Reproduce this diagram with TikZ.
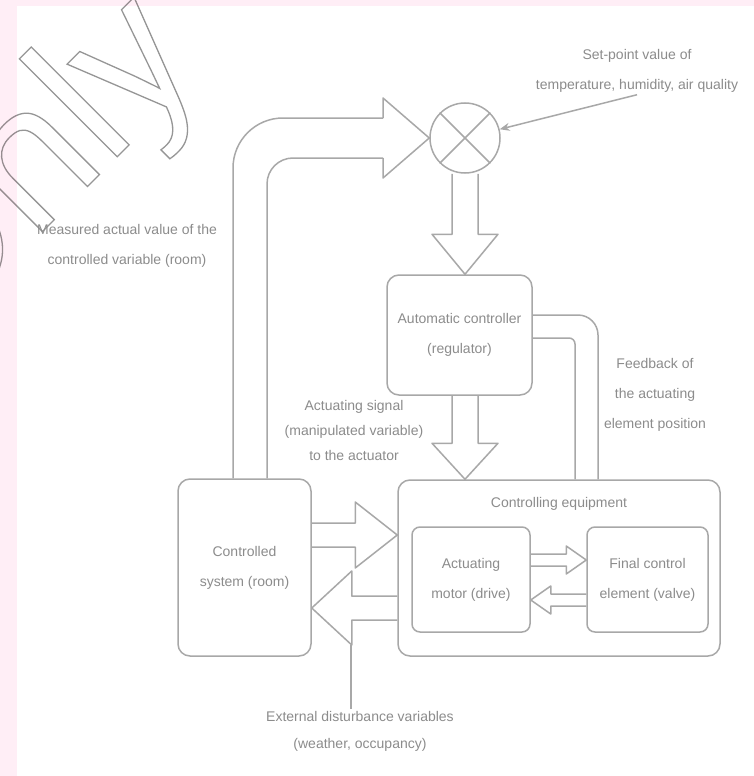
\documentclass[tikz,border=0pt]{standalone}
\usepackage{fontspec}
\setmainfont{Liberation Sans}
\newfontfamily\wmfont{Liberation Sans}
\usetikzlibrary{calc,arrows.meta}
\definecolor{pinkbg}{RGB}{255,238,246}
\definecolor{lin}{RGB}{168,168,168}
\definecolor{txt}{RGB}{140,140,140}
\definecolor{wmgray}{RGB}{150,150,150}
\newcommand{\lbfont}{\fontsize{14}{30}\selectfont}
\newcommand{\hollowarr}[5]{%
  \path let \p1=(#1), \p2=(#2), \n1={atan2(\y2-\y1,\x2-\x1)}, \n2={veclen(\x2-\x1,\y2-\y1)} in
    \pgfextra{\xdef\harrang{\n1}\xdef\harrlen{\n2}};
  \draw[pipe, shift={(#1)}, rotate=\harrang] (0,#3) -- ({\harrlen-#5},#3) -- ({\harrlen-#5},#4)
    -- (\harrlen,0) -- ({\harrlen-#5},-#4) -- ({\harrlen-#5},-#3) -- (0,-#3);
}
\tikzset{
  pipe/.style={draw=lin, line width=1.5pt, line join=round},
  box/.style={draw=lin, line width=1.5pt, rounded corners=12pt, align=center, text=txt, font=\lbfont, inner sep=2pt},
  subbox/.style={box, rounded corners=8pt},
  lbl/.style={align=center, text=txt, font=\lbfont, inner sep=2pt},
}
\begin{document}
\begin{tikzpicture}[x=1pt, y=-1pt]
\useasboundingbox (0,0) rectangle (754,776);
\fill[white] (0,0) rectangle (754,776);
% watermark (outlined text)
\node[anchor=base west, rotate=45, inner sep=0pt, outer sep=0pt] (wm) at (-72,346)
  {\wmfont\fontsize{191}{191}\selectfont{\color{wmgray}\special{pdf:literal direct 1 Tr 1.3 w}Only\special{pdf:literal direct 0 Tr}}};
% page margins
\fill[pinkbg, blend mode=multiply] (0,0) rectangle (17,776);
\fill[pinkbg, blend mode=multiply] (17,0) rectangle (754,6);

% nodes
\node[circle, draw=lin, line width=1.5pt, minimum size=70pt, inner sep=0pt] (circ) at (465,138) {};
\draw[pipe] (circ.north west) -- (circ.south east) (circ.north east) -- (circ.south west);

\node[box, minimum width=145pt, minimum height=120pt] (ctrl) at (459.5,335) {Automatic controller\\(regulator)};
\node[box, minimum width=133pt, minimum height=177pt] (plant) at (244.5,567.5) {Controlled\\system (room)};
\node[box, minimum width=322pt, minimum height=176pt] (equip) at (559,568) {};
\node[lbl] (eqt) at (559,504) {Controlling equipment};
\node[subbox, minimum width=118pt, minimum height=105pt] (act) at (471,579.5) {Actuating\\motor (drive)};
\node[subbox, minimum width=121pt, minimum height=105pt] (fce) at (647.5,579.5) {Final control\\element (valve)};

\node[lbl] (tSet) at (637,71) {Set-point value of\\temperature, humidity, air quality};
\node[lbl] (tMeas) at (127,246) {Measured actual value of the\\controlled variable (room)};
\node[lbl] (tFb) at (655,395) {Feedback of\\the actuating\\element position};
\node[lbl, font=\fontsize{14}{25}\selectfont] (tAct) at (354,430) {Actuating signal\\(manipulated variable)\\to the actuator};
\node[lbl, font=\fontsize{14}{27}\selectfont] (tDist) at (360,731) {External disturbance variables\\(weather, occupancy)};

% coordinates for pipes
\coordinate (lpo) at (233,0);
\coordinate (lpi) at (267,0);
\coordinate (hb) at (383,0);
\coordinate (rpo) at (598,0);
\coordinate (rpi) at (575,0);
\coordinate (ua) at (0,535);
\coordinate (la) at (0,608);
\coordinate (ca1) at (0,560);
\coordinate (ca2) at (0,600);
\coordinate (dj) at (351,645);

% feedback pipe from plant to comparator
\draw[pipe, rounded corners=50pt] (plant.north -| lpo) |- (hb |- 0,118);
\draw[pipe, rounded corners=26pt] (plant.north -| lpi) |- (hb |- 0,158);
\draw[pipe] (hb |- 0,118) -- (hb |- 0,98) -- (circ.west) -- (hb |- 0,178) -- (hb |- 0,158);

% set-point arrow
\draw[pipe, -{Stealth[length=10pt,width=8pt]}] (tSet.south) -- (circ);

% vertical hollow arrows
\hollowarr{circ.south}{circ.south |- ctrl.north}{13}{33}{40}
\hollowarr{ctrl.south -| circ}{circ |- equip.north}{13}{33}{36}

% right pipe from equipment to controller
\draw[pipe, rounded corners=20pt] (ctrl.east |- 0,315) -| (equip.north -| rpo);
\draw[pipe, rounded corners=6pt] (ctrl.east |- 0,338) -| (equip.north -| rpi);

% arrows between plant and equipment
\hollowarr{plant.east |- ua}{equip.west |- ua}{12}{33}{42}
\hollowarr{equip.west |- la}{plant.east |- la}{12}{37}{40}
\draw[pipe] (tDist.north -| dj) -- (dj);

% arrows between actuator and final control element
\hollowarr{act.east |- ca1}{fce.west |- ca1}{6}{14}{20}
\hollowarr{fce.west |- ca2}{act.east |- ca2}{6}{14}{20}
\end{tikzpicture}
\end{document}
